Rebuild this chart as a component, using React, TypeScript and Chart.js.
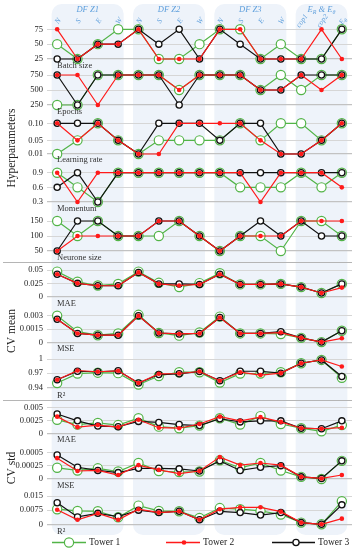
import React, { useEffect, useRef } from 'react';
import { Chart, registerables } from 'chart.js';
Chart.register(...registerables);

const SERIF = "'Liberation Serif', 'Times New Roman', serif";

const categories = ['N', 'S', 'E', 'W', 'N', 'S', 'E', 'W', 'N', 'S', 'E', 'W', 'cop1', 'cop2', 'E_θ'];
const groupNames = ['DF Z1', 'DF Z2', 'DF Z3', 'E_R & E_θ'];
const groupStart = [0, 4, 8, 12];
const groupEnd = [3, 7, 11, 14];
const towerNames = ['Tower 1', 'Tower 2', 'Tower 3'];

const batchT1 = [50, 25, 50, 75, 75, 25, 25, 50, 75, 75, 25, 50, 25, 25, 75];
const batchT2 = [75, 25, 50, 50, 75, 25, 25, 25, 75, 75, 25, 25, 25, 75, 25];
const batchT3 = [25, 25, 50, 50, 75, 50, 75, 25, 75, 50, 25, 25, 25, 25, 75];

const epochsT1 = [250, 250, 750, 750, 750, 750, 500, 750, 750, 750, 500, 750, 500, 750, 750];
const epochsT2 = [750, 750, 250, 750, 750, 750, 500, 750, 750, 750, 500, 500, 750, 500, 750];
const epochsT3 = [750, 250, 750, 750, 750, 750, 250, 750, 750, 750, 500, 500, 750, 750, 750];

const lrT1 = [0.01, 0.05, 0.1, 0.05, 0.01, 0.05, 0.05, 0.05, 0.05, 0.1, 0.05, 0.1, 0.1, 0.05, 0.1];
const lrT2 = [0.1, 0.05, 0.1, 0.05, 0.01, 0.01, 0.1, 0.1, 0.1, 0.1, 0.05, 0.01, 0.01, 0.05, 0.1];
const lrT3 = [0.1, 0.1, 0.1, 0.05, 0.01, 0.1, 0.1, 0.1, 0.05, 0.1, 0.1, 0.01, 0.01, 0.05, 0.1];

const momT1 = [0.9, 0.6, 0.3, 0.9, 0.9, 0.9, 0.9, 0.9, 0.9, 0.6, 0.6, 0.6, 0.9, 0.6, 0.9];
const momT2 = [0.9, 0.3, 0.9, 0.9, 0.9, 0.9, 0.9, 0.9, 0.9, 0.9, 0.3, 0.9, 0.9, 0.9, 0.6];
const momT3 = [0.6, 0.9, 0.3, 0.9, 0.9, 0.9, 0.9, 0.9, 0.9, 0.9, 0.9, 0.9, 0.9, 0.9, 0.9];

const neurT1 = [150, 100, 150, 100, 100, 100, 150, 100, 50, 100, 100, 50, 150, 150, 100];
const neurT2 = [50, 100, 100, 100, 100, 150, 150, 100, 50, 100, 100, 100, 150, 150, 150];
const neurT3 = [50, 150, 150, 100, 100, 150, 150, 100, 50, 100, 150, 100, 150, 100, 100];

const maeMeanT1 = [0.047, 0.028, 0.021, 0.024, 0.047, 0.026, 0.018, 0.0255, 0.044, 0.023, 0.023, 0.024, 0.018, 0.007, 0.024];
const maeMeanT2 = [0.042, 0.025, 0.0205, 0.0205, 0.0455, 0.024, 0.021, 0.023, 0.042, 0.023, 0.023, 0.024, 0.018, 0.007, 0.017];
const maeMeanT3 = [0.042, 0.025, 0.0205, 0.0205, 0.0455, 0.024, 0.024, 0.023, 0.042, 0.023, 0.023, 0.024, 0.018, 0.007, 0.024];

const mseMeanT1 = [0.003, 0.0012, 0.0008, 0.001, 0.0031, 0.00105, 0.00075, 0.0011, 0.0029, 0.001, 0.001, 0.00094, 0.0005, 0.00002, 0.0013];
const mseMeanT2 = [0.0026, 0.001, 0.0008, 0.0008, 0.003, 0.00105, 0.00094, 0.001, 0.0028, 0.001, 0.001, 0.0011, 0.0005, 0.00002, 0.00045];
const mseMeanT3 = [0.0026, 0.001, 0.0008, 0.0008, 0.003, 0.00105, 0.00094, 0.001, 0.0028, 0.001, 0.001, 0.0012, 0.0005, 0.00002, 0.0013];

const r2MeanT1 = [0.949, 0.969, 0.971, 0.97, 0.946, 0.964, 0.972, 0.972, 0.95, 0.969, 0.969, 0.972, 0.991, 0.998, 0.96];
const r2MeanT2 = [0.956, 0.9756, 0.973, 0.975, 0.949, 0.9686, 0.9693, 0.9735, 0.954, 0.972, 0.966, 0.97, 0.991, 0.998, 0.984];
const r2MeanT3 = [0.956, 0.974, 0.973, 0.975, 0.949, 0.967, 0.9686, 0.9735, 0.954, 0.974, 0.974, 0.97, 0.991, 0.998, 0.963];

const maeStdT1 = [0.0027, 0.0018, 0.0021, 0.0017, 0.003, 0.0014, 0.0011, 0.0016, 0.003, 0.0018, 0.0034, 0.0019, 0.0011, 0.0005, 0.0017];
const maeStdT2 = [0.0033, 0.0013, 0.0017, 0.0013, 0.0027, 0.0012, 0.0011, 0.0019, 0.0033, 0.0025, 0.0032, 0.0023, 0.0011, 0.001, 0.0012];
const maeStdT3 = [0.0038, 0.0025, 0.0015, 0.0014, 0.0024, 0.0022, 0.0018, 0.0016, 0.0029, 0.0023, 0.0025, 0.0025, 0.0011, 0.001, 0.0025];

const mseStdT1 = [0.00021, 0.00016, 0.0002, 0.00014, 0.0003, 0.00015, 0.00013, 0.00014, 0.00035, 0.00021, 0.0003, 0.00016, 0.00004, 0, 0.00034];
const mseStdT2 = [0.00039, 0.00015, 0.00016, 0.000075, 0.00026, 0.00017, 0.0001, 0.00015, 0.00041, 0.00026, 0.0003, 0.00026, 0.00004, 0.00001, 0.000075];
const mseStdT3 = [0.00045, 0.00022, 0.00016, 0.00012, 0.0002, 0.0002, 0.00019, 0.00015, 0.00034, 0.00016, 0.00022, 0.00025, 0.00004, 0.00001, 0.00034];

const r2StdT1 = [0.008, 0.0071, 0.0069, 0.0037, 0.0099, 0.0071, 0.0069, 0.0034, 0.0086, 0.008, 0.0071, 0.0052, 0.0009, 0, 0.0122];
const r2StdT2 = [0.0077, 0.0024, 0.0058, 0.0024, 0.008, 0.0062, 0.0069, 0.0024, 0.008, 0.009, 0.009, 0.0067, 0.0009, 0, 0.003];
const r2StdT3 = [0.0114, 0.0039, 0.0058, 0.0041, 0.0075, 0.0062, 0.0069, 0.0024, 0.0069, 0.0062, 0.0049, 0.0062, 0.0009, 0, 0.0103];

const panelIds = ['batch', 'epochs', 'lr', 'mom', 'neur', 'maeM', 'mseM', 'r2M', 'maeS', 'mseS', 'r2S'];
const panelLabels = ['Batch size', 'Epochs', 'Learning rate', 'Momentum', 'Neurone size', 'MAE', 'MSE', 'R²', 'MAE', 'MSE', 'R²'];
const panelTickValues = [
  [25, 50, 75], [250, 500, 750], [0.01, 0.05, 0.1], [0.3, 0.6, 0.9], [50, 100, 150],
  [0, 0.025, 0.05], [0, 0.0015, 0.003], [0.94, 0.97, 1],
  [0, 0.0025, 0.005], [0, 0.00025, 0.0005], [0, 0.0075, 0.015],
];
const panelTickLabels = [
  ['25', '50', '75'], ['250', '500', '750'], ['0.01', '0.05', '0.10'], ['0.3', '0.6', '0.9'], ['50', '100', '150'],
  ['0', '0.025', '0.05'], ['0', '0.0015', '0.003'], ['0.94', '0.97', '1'],
  ['0', '0.0025', '0.005'], ['0', '0.00025', '0.0005'], ['0', '0.0075', '0.015'],
];
const panelSeries = [
  [batchT1, batchT2, batchT3], [epochsT1, epochsT2, epochsT3], [lrT1, lrT2, lrT3], [momT1, momT2, momT3],
  [neurT1, neurT2, neurT3], [maeMeanT1, maeMeanT2, maeMeanT3], [mseMeanT1, mseMeanT2, mseMeanT3],
  [r2MeanT1, r2MeanT2, r2MeanT3], [maeStdT1, maeStdT2, maeStdT3], [mseStdT1, mseStdT2, mseStdT3],
  [r2StdT1, r2StdT2, r2StdT3],
];
const sectionNames = ['Hyperparameters', 'CV mean', 'CV std'];
const sectionStart = [0, 5, 8];
const sectionEnd = [4, 7, 10];

// layout (pixels): panel top, panel bottom, pixel of highest tick, pixel of lowest tick
const panelLayout = [
  [24, 70, 29.3, 59], [70, 116, 75, 105], [116, 164, 123.3, 154], [164, 213, 172.7, 202],
  [213, 262, 221, 251], [262, 308, 270, 296.7], [308, 353, 315.7, 342.3], [353, 400, 359, 387.3],
  [400, 444, 407.7, 434], [444, 490, 452.3, 479], [490, 536, 496, 524.3],
];

const towerColors = ['#52b447', '#ff1a1a', '#111111'];
const BLUE = '#5e9fdc';

function drawRich(ctx: CanvasRenderingContext2D, text: string, x: number, y: number, size: number, italic: boolean, align: 'center' | 'left') {
  const parts: { t: string; sub: boolean }[] = [];
  for (let i = 0; i < text.length; i++) {
    if (text[i] === '_' && i + 1 < text.length) {
      parts.push({ t: text[i + 1], sub: true });
      i++;
    } else {
      const last = parts[parts.length - 1];
      if (last && !last.sub) last.t += text[i];
      else parts.push({ t: text[i], sub: false });
    }
  }
  const f = (s: number) => `${italic ? 'italic ' : ''}${s}px ${SERIF}`;
  let w = 0;
  parts.forEach((p) => {
    ctx.font = f(p.sub ? size * 0.7 : size);
    w += ctx.measureText(p.t).width;
  });
  let cx = align === 'center' ? x - w / 2 : x;
  ctx.textAlign = 'left';
  ctx.textBaseline = 'middle';
  parts.forEach((p) => {
    ctx.font = f(p.sub ? size * 0.7 : size);
    ctx.fillText(p.t, cx, p.sub ? y + size * 0.3 : y);
    cx += ctx.measureText(p.t).width;
  });
}

const decorPlugin = {
  id: 'decor',
  beforeDraw(chart: any) {
    const ctx: CanvasRenderingContext2D = chart.ctx;
    const xs = chart.scales.x;
    ctx.save();
    ctx.fillStyle = '#eef3fa';
    for (let g = 0; g < groupNames.length; g++) {
      const x0 = xs.getPixelForValue(groupStart[g]) - 5.5;
      const x1 = xs.getPixelForValue(groupEnd[g]) + 5.5;
      ctx.beginPath();
      (ctx as any).roundRect(x0, 4, x1 - x0, 531, 10);
      ctx.fill();
    }
    ctx.restore();
  },
  afterDraw(chart: any) {
    const ctx: CanvasRenderingContext2D = chart.ctx;
    const xs = chart.scales.x;
    const area = chart.chartArea;
    ctx.save();
    ctx.fillStyle = BLUE;
    for (let g = 0; g < groupNames.length; g++) {
      const cx = (xs.getPixelForValue(groupStart[g]) + xs.getPixelForValue(groupEnd[g])) / 2;
      drawRich(ctx, groupNames[g], cx, 10, 8.5, true, 'center');
    }
    categories.forEach((c, i) => {
      const x = xs.getPixelForValue(i);
      ctx.save();
      ctx.translate(x + 1, 21);
      ctx.rotate((-55 * Math.PI) / 180);
      drawRich(ctx, c, 0, 0, 7.5, true, 'center');
      ctx.restore();
    });
    ctx.fillStyle = '#333';
    panelIds.forEach((id, i) => {
      const s = chart.scales[id];
      drawRich(ctx, panelLabels[i], 57, s.bottom - 4.5, 8.5, false, 'left');
    });
    ctx.strokeStyle = '#b5b5b5';
    ctx.lineWidth = 1;
    [sectionEnd[0], sectionEnd[1]].forEach((pi) => {
      const y = Math.round(chart.scales[panelIds[pi]].bottom) + 0.5;
      ctx.beginPath();
      ctx.moveTo(3, y);
      ctx.lineTo(area.right, y);
      ctx.stroke();
    });
    ctx.fillStyle = '#222';
    sectionNames.forEach((n, i) => {
      const top = chart.scales[panelIds[sectionStart[i]]].top;
      const bottom = chart.scales[panelIds[sectionEnd[i]]].bottom;
      ctx.save();
      ctx.translate(12, (top + bottom) / 2 + (i === 0 ? 5 : 0));
      ctx.rotate(-Math.PI / 2);
      ctx.font = `11.5px ${SERIF}`;
      ctx.textAlign = 'center';
      ctx.textBaseline = 'middle';
      ctx.fillText(n, 0, 0);
      ctx.restore();
    });
    const ly = 542.5;
    const legendX = [[52, 86, 69], [166, 200, 184], [272, 315, 296]];
    const radii = [4.6, 2.3, 3.1];
    towerNames.forEach((n, t) => {
      const [a, b, m] = legendX[t];
      ctx.strokeStyle = towerColors[t];
      ctx.lineWidth = 1.3;
      ctx.beginPath();
      ctx.moveTo(a, ly);
      ctx.lineTo(b, ly);
      ctx.stroke();
      ctx.beginPath();
      ctx.arc(m, ly, radii[t], 0, Math.PI * 2);
      if (t === 1) {
        ctx.fillStyle = towerColors[t];
        ctx.fill();
      } else {
        ctx.fillStyle = '#fff';
        ctx.fill();
        ctx.lineWidth = t === 0 ? 1.2 : 1.3;
        ctx.stroke();
      }
      ctx.fillStyle = '#222';
      ctx.font = `9.5px ${SERIF}`;
      ctx.textAlign = 'left';
      ctx.textBaseline = 'middle';
      ctx.fillText(n, b + 3, ly);
    });
    ctx.restore();
  },
};

export default function App() {
  const ref = useRef<HTMLCanvasElement>(null);
  useEffect(() => {
    const canvas = ref.current!;
    const scales: any = {
      x: { type: 'category', display: false, offset: true },
    };
    const datasets: any[] = [];
    panelIds.forEach((id, i) => {
      const [top, bottom, hiPx, loPx] = panelLayout[i];
      const tv = panelTickValues[i];
      const lo = tv[0];
      const hi = tv[tv.length - 1];
      const k = (hi - lo) / (loPx - hiPx);
      scales[id] = {
        type: 'linear',
        position: 'left',
        stack: 'panels',
        stackWeight: bottom - top,
        weight: panelIds.length - i,
        min: lo - (bottom - loPx) * k,
        max: hi + (hiPx - top) * k,
        afterBuildTicks: (s: any) => {
          s.ticks = tv.map((v) => ({ value: v }));
        },
        afterFit: (s: any) => {
          s.width = 47;
        },
        ticks: {
          autoSkip: false,
          padding: 4,
          color: '#222',
          font: { family: SERIF, size: 8.5 },
          callback: (_v: any, idx: number) => panelTickLabels[i][idx],
        },
        grid: {
          drawTicks: false,
          color: (c: any) => (c.index === 0 ? '#c2c2c2' : '#d6d6d6'),
          lineWidth: (c: any) => (c.index === 0 ? 1.3 : 1),
        },
        border: { display: false },
      };
      panelSeries[i].forEach((data, t) => {
        datasets.push({
          label: towerNames[t],
          data,
          yAxisID: id,
          xAxisID: 'x',
          borderColor: towerColors[t],
          borderWidth: 1.2,
          tension: 0,
          fill: false,
          order: t === 0 ? 3 : t === 2 ? 2 : 1,
          pointStyle: 'circle',
          pointRadius: t === 0 ? 4.6 : t === 1 ? 2.3 : 3.1,
          pointBorderWidth: t === 0 ? 1.2 : t === 1 ? 0 : 1.3,
          pointBorderColor: towerColors[t],
          pointBackgroundColor: t === 1 ? towerColors[t] : '#ffffff',
          clip: false,
        });
      });
    });
    const chart = new Chart(canvas, {
      type: 'line',
      data: { labels: categories, datasets },
      options: {
        responsive: false,
        animation: false,
        devicePixelRatio: 1,
        layout: { padding: { top: 24, bottom: 14, left: 0, right: 6 } },
        scales,
        plugins: { legend: { display: false }, tooltip: { enabled: false } },
        events: [],
      } as any,
      plugins: [decorPlugin],
    });
    return () => chart.destroy();
  }, []);
  return (
    <div style={{ position: 'absolute', left: 0, top: 0, width: 358, height: 550, background: '#fff' }}>
      <canvas ref={ref} width={358} height={550} style={{ display: 'block' }} />
    </div>
  );
}
